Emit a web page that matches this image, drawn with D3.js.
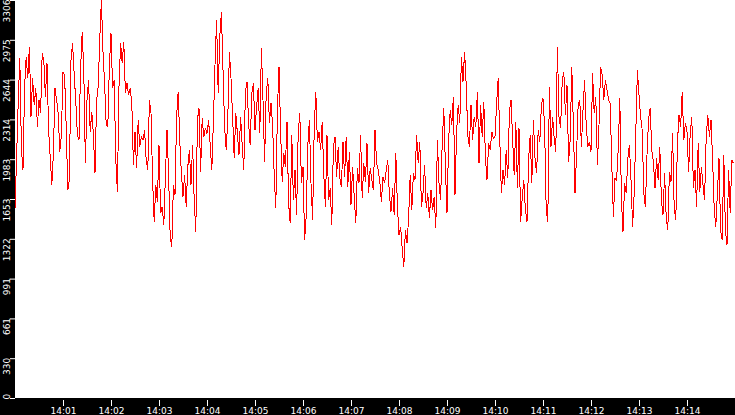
<!DOCTYPE html>
<html>
<head>
<meta charset="utf-8">
<script src="https://cdn.jsdelivr.net/npm/d3@7"></script>
<style>
  html, body { margin: 0; padding: 0; background: #000; }
  svg { display: block; }
</style>
</head>
<body>
<div id="chart"></div>
<script>
// one reading every 2 seconds, starting 14:00:00
var startTime = new Date(2000, 0, 1, 14, 0, 0);
var endTime = new Date(2000, 0, 1, 14, 15, 0);
var stepSeconds = 2;

var values = [
  1575,2005,2448,2821,2074,1894,2586,2835,2655,2918,
  2337,2655,2434,2572,2254,2475,2365,2863,2808,2503,
  2780,2226,2005,1769,2032,2572,2475,2365,2046,2185,
  2711,2683,2254,1728,1811,2808,2946,2683,2461,2185,
  2143,2738,3043,2711,1949,2475,2641,2212,2378,2185,

  1866,2475,2586,2988,3306,2877,2614,2268,2254,2766,
  3029,2572,2641,1977,1714,2586,2946,2780,2960,2531,
  2614,2517,2572,2448,1935,2212,1908,2309,2088,2171,
  2143,2226,1977,1894,2475,2365,1811,1465,1769,1631,
  2101,1534,1589,1437,1838,2226,1852,1340,1257,1769,

  1686,2337,2545,2129,1866,1672,1852,1589,1922,2060,
  1769,2101,1645,1382,2309,2406,1880,2323,2171,2240,
  2198,2309,2101,1894,2295,2766,3140,2531,3001,3209,
  2725,2254,2060,2323,2877,2655,2337,1991,2365,2198,
  2018,2337,2101,1894,2545,2628,2282,2101,2531,2614,

  2226,2420,2572,2198,2904,2475,1963,2531,2655,2282,
  2448,2268,1852,1575,2392,2752,2226,1797,2032,1922,
  2295,1617,1451,2185,1645,1894,1520,2198,2365,1783,
  1922,1312,1506,2101,2309,1783,1479,2226,2545,2129,
  2212,2060,2295,1852,1589,2185,1645,1742,1437,2088,

  2171,1838,2088,1825,1755,2129,1838,2171,1755,2046,
  1603,1922,1672,1451,1908,1783,2185,1658,1949,1797,
  2115,1700,1908,1811,1728,2226,1949,1894,1797,1631,
  1838,1783,1894,1977,1686,1548,1742,1520,2032,1603,
  1354,1423,1243,1091,1395,1285,1492,1852,1562,1866,

  1811,2185,1949,2129,1589,1700,1935,1575,1700,1492,
  1728,1562,1672,1409,2143,1783,1645,2115,2406,1922,
  1534,2129,2392,2268,2503,1686,2212,2434,2282,2835,
  2628,2877,2600,2185,2088,2434,2143,2337,2254,2545,
  1949,2434,2171,2461,2005,1811,2115,2060,2212,2157,

  2171,2448,2655,2143,1700,1894,1769,2060,1825,2378,
  2475,2157,1852,2295,1742,2240,1465,1658,1811,1562,
  1465,1977,2185,1783,2309,1991,1866,2226,2129,2434,
  2489,2254,1562,1465,2586,2088,2337,2157,2046,2918,
  2337,2240,2628,2711,2351,2600,1963,2143,2752,2254,

  1700,2032,2448,2475,2088,2392,2641,2268,2088,2129,
  2046,2697,2365,2503,1935,2268,2752,2683,2475,2641,
  2558,2475,2448,1935,1506,1825,1811,2060,2489,1645,
  1382,1783,1700,1991,2101,1811,1423,1700,2212,2725,
  2517,2337,2226,1700,1589,2018,2323,2406,2060,1963,

  1742,1991,1811,2088,1645,1520,1866,1506,1395,1880,
  1797,2198,1575,1479,2115,2351,2254,2545,2143,2282,
  2212,1880,2198,2337,1742,1894,1589,2115,1714,1922,
  1769,1645,2171,2351,2171,2309,1977,1575,1423,1700,
  1991,1395,1312,2018,1395,1271,1894,1534,1977,1949
];

var xTickLabels = ["14:01","14:02","14:03","14:04","14:05","14:06","14:07",
                   "14:08","14:09","14:10","14:11","14:12","14:13","14:14"];
var yTickLabels = ["0","330","661","991","1322","1653","1983","2314","2644","2975","3306"];

var W = 735, H = 415;
var margin = {top: 0, right: 0, bottom: 17, left: 15},
    width = W - margin.left - margin.right,
    height = H - margin.top - margin.bottom;

var data = values.map(function(v, i) {
  return {time: new Date(startTime.getTime() + i * stepSeconds * 1000), value: v};
});

var svg = d3.select("#chart")
  .append("svg")
    .attr("width", W)
    .attr("height", H)
    .style("background", "#000");

var g = svg.append("g")
    .attr("transform", "translate(" + margin.left + "," + margin.top + ")");

g.append("rect")
    .attr("width", width)
    .attr("height", height)
    .attr("fill", "#fff");

var x = d3.scaleTime()
    .domain([startTime, endTime])
    .range([0, width]);

var yMax = d3.max(values);
var y = d3.scaleLinear()
    .domain([0, yMax])
    .range([height, 0]);

var parseMin = d3.timeParse("%H:%M");
var xTicks = xTickLabels.map(function(s) {
  var t = parseMin(s);
  return new Date(2000, 0, 1, t.getHours(), t.getMinutes(), 0);
});
var yTicks = yTickLabels.map(function(s, i) { return yMax / 10 * i; });

// x axis
var xAxis = g.append("g")
    .attr("transform", "translate(0," + (height + 2) + ")")
    .call(d3.axisBottom(x)
      .tickValues(xTicks)
      .tickSize(6)
      .tickPadding(2)
      .tickFormat(function(d, i) { return xTickLabels[i]; }));
xAxis.select(".domain").remove();
xAxis.selectAll("line").attr("stroke", "#fff");
xAxis.selectAll("text")
    .attr("fill", "#fff")
    .style("font-family", "DejaVu Sans")
    .style("font-size", "9px");

// y axis
var yAxis = g.append("g")
    .call(d3.axisLeft(y)
      .tickValues(yTicks)
      .tickSize(5)
      .tickFormat(function(d, i) { return yTickLabels[i]; }));
yAxis.select(".domain").remove();
yAxis.selectAll("line").attr("stroke", "#fff");
yAxis.selectAll("text")
    .attr("fill", "#fff")
    .attr("x", null)
    .attr("dy", null)
    .style("font-family", "DejaVu Sans")
    .style("font-size", "9px")
    .attr("text-anchor", function(d, i) { return i === 0 ? "start" : "end"; })
    .attr("transform", function(d, i) {
      return "translate(-5.5," + (i === 0 ? 1 : -1) + ") rotate(-90)";
    });

// series
g.append("path")
    .datum(data)
    .attr("fill", "none")
    .attr("stroke", "#ff0000")
    .attr("stroke-width", 1)
    .attr("shape-rendering", "crispEdges")
    .attr("d", d3.line()
      .x(function(d) { return x(d.time); })
      .y(function(d) { return y(d.value); }));
</script>
</body>
</html>
